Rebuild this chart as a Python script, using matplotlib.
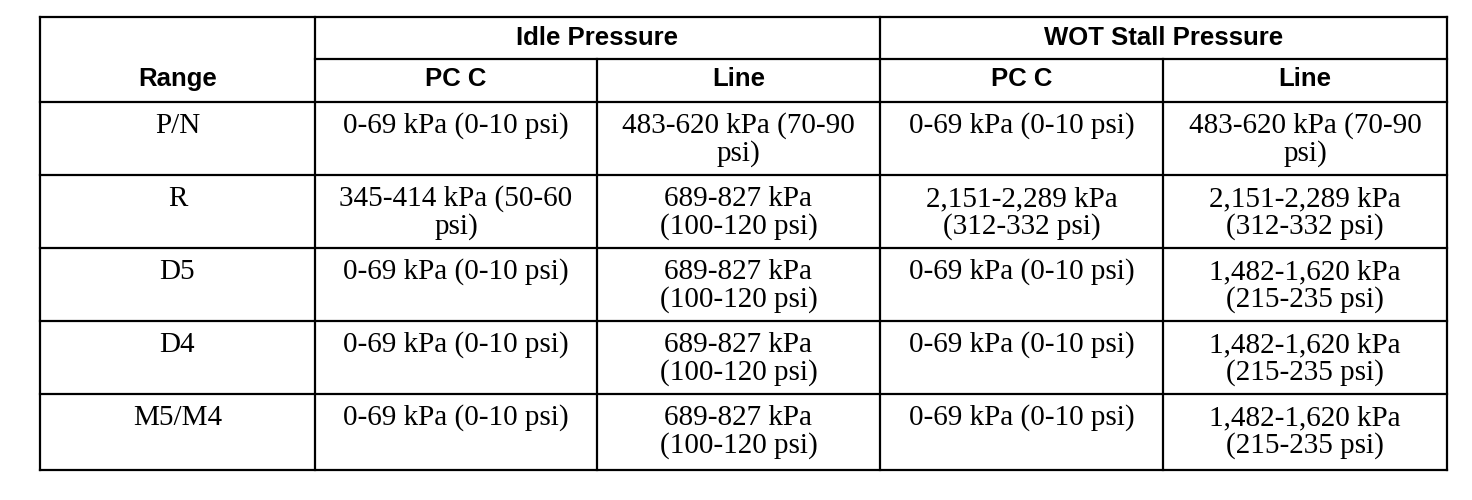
import matplotlib

matplotlib.use("Agg")
import matplotlib.pyplot as plt

# table content
groups = ["Idle Pressure", "WOT Stall Pressure"]
subheads = ["PC C", "Line", "PC C", "Line"]
ranges = ["P/N", "R", "D5", "D4", "M5/M4"]
idle_pcc = [
    ["0-69 kPa (0-10 psi)"],
    ["345-414 kPa (50-60", "psi)"],
    ["0-69 kPa (0-10 psi)"],
    ["0-69 kPa (0-10 psi)"],
    ["0-69 kPa (0-10 psi)"],
]
idle_line = [
    ["483-620 kPa (70-90", "psi)"],
    ["689-827 kPa", "(100-120 psi)"],
    ["689-827 kPa", "(100-120 psi)"],
    ["689-827 kPa", "(100-120 psi)"],
    ["689-827 kPa", "(100-120 psi)"],
]
wot_pcc = [
    ["0-69 kPa (0-10 psi)"],
    ["2,151-2,289 kPa", "(312-332 psi)"],
    ["0-69 kPa (0-10 psi)"],
    ["0-69 kPa (0-10 psi)"],
    ["0-69 kPa (0-10 psi)"],
]
wot_line = [
    ["483-620 kPa (70-90", "psi)"],
    ["2,151-2,289 kPa", "(312-332 psi)"],
    ["1,482-1,620 kPa", "(215-235 psi)"],
    ["1,482-1,620 kPa", "(215-235 psi)"],
    ["1,482-1,620 kPa", "(215-235 psi)"],
]

# layout in pixel units
col_x = [40, 315, 597, 880, 1163, 1447]
row_y = [102, 175, 248, 321, 394, 470]
top, mid = 17, 59

fig = plt.figure(figsize=(14.72, 5.0), dpi=100)
ax = fig.add_axes([0, 0, 1, 1])
ax.set_xlim(0, 1472)
ax.set_ylim(500, 0)
ax.axis("off")

kw = dict(color="black", lw=1.6, solid_capstyle="projecting")
# horizontal rules
for y in [top] + row_y:
    ax.plot([col_x[0], col_x[-1]], [y, y], **kw)
ax.plot([col_x[1], col_x[-1]], [mid, mid], **kw)
# vertical rules
for i, x in enumerate(col_x):
    y0 = mid if i in (2, 4) else top
    ax.plot([x, x], [y0, row_y[-1]], **kw)

hfont = dict(family="Liberation Sans", weight="bold", fontsize=18.5)
bfont = dict(family="Liberation Serif", fontsize=21)

ax.text((col_x[0] + col_x[1]) / 2, 86, "Range", ha="center", va="baseline", **hfont)
for g, name in enumerate(groups):
    cx = (col_x[1 + 2 * g] + col_x[3 + 2 * g]) / 2
    ax.text(cx, 45, name, ha="center", va="baseline", **hfont)
for j, name in enumerate(subheads):
    cx = (col_x[1 + j] + col_x[2 + j]) / 2
    ax.text(cx, 86, name, ha="center", va="baseline", **hfont)

columns = [[[r] for r in ranges], idle_pcc, idle_line, wot_pcc, wot_line]
for j, col in enumerate(columns):
    cx = (col_x[j] + col_x[j + 1]) / 2
    for i, lines in enumerate(col):
        for k, line in enumerate(lines):
            ax.text(cx, row_y[i] + 31 + 28 * k, line, ha="center",
                    va="baseline", **bfont)

fig.savefig("out.png", dpi=100)
